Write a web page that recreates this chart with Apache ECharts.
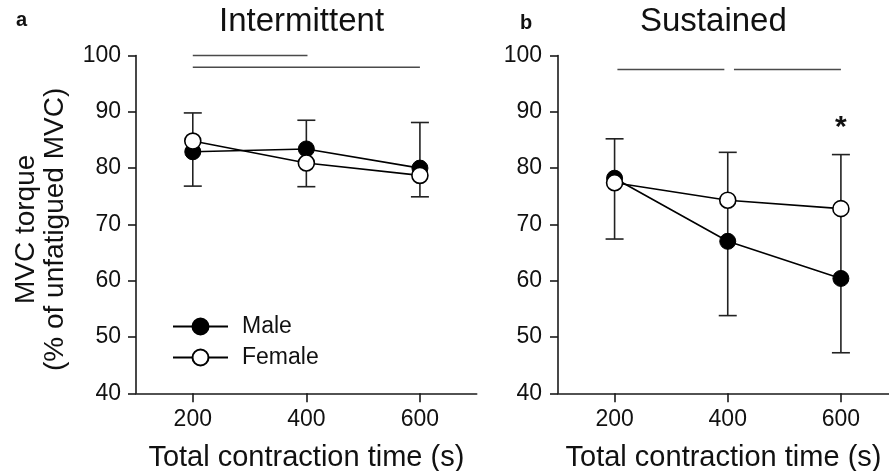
<!DOCTYPE html>
<html>
<head>
<meta charset="utf-8">
<script src="https://cdn.jsdelivr.net/npm/echarts@6/dist/echarts.min.js"></script>
<style>
html,body{margin:0;padding:0;background:#fff;}
#chart{width:889px;height:471px;}
</style>
</head>
<body>
<div id="chart"></div>
<script>
// ---- data ----
const xValues = [200, 400, 600];
const xTickValues = [200, 400, 600];
const seriesNames = ['Male', 'Female'];

const intermittentMale = [82.9, 83.4, 80.0];
const intermittentFemale = [84.8, 80.9, 78.7];
const intermittentErrHigh = [89.8, 88.5, 88.1];
const intermittentErrLow = [76.8, 76.7, 74.9];

const sustainedMale = [78.2, 67.0, 60.4];
const sustainedFemale = [77.4, 74.3, 72.8];
const sustainedErrHigh = [85.2, 82.8, 82.4];
const sustainedErrLow = [67.4, 53.8, 47.2];

// significance bars: [xStart, xEnd, y]
const intermittentSigBars = [[200, 402, 100], [200, 600, 97.9]];
const sustainedSigBars = [[205, 394, 97.5], [411, 600, 97.5]];
// significance marks: [x, y, text]
const sustainedStars = [[600, 87.9, '*']];

const panelTitles = ['Intermittent', 'Sustained'];
const panelLetters = ['a', 'b'];
const xAxisName = 'Total contraction time (s)';
const yAxisName = 'MVC torque\n(% of unfatigued MVC)';

// ---- chart ----
const FONT = '"Liberation Sans", Arial, sans-serif';
const INK = '#111';
const chart = echarts.init(document.getElementById('chart'), null, {renderer: 'canvas'});

function pairs(vals) { return xValues.map((x, i) => [x, vals[i]]); }
function errData(lo, hi) { return xValues.map((x, i) => [x, lo[i], hi[i]]); }

function errorRender(params, api) {
  const x = api.value(0), lo = api.value(1), hi = api.value(2);
  const a = api.coord([x, hi]);
  const b = api.coord([x, lo]);
  const hw = 9;
  const st = {stroke: '#222', lineWidth: 1.6};
  return {type: 'group', children: [
    {type: 'line', shape: {x1: a[0], y1: a[1], x2: b[0], y2: b[1]}, style: st},
    {type: 'line', shape: {x1: a[0] - hw, y1: a[1], x2: a[0] + hw, y2: a[1]}, style: st},
    {type: 'line', shape: {x1: b[0] - hw, y1: b[1], x2: b[0] + hw, y2: b[1]}, style: st}
  ]};
}
function sigRender(params, api) {
  const a = api.coord([api.value(0), api.value(2)]);
  const b = api.coord([api.value(1), api.value(2)]);
  return {type: 'line', shape: {x1: a[0], y1: a[1], x2: b[0], y2: b[1]},
          style: {stroke: '#4a4a4a', lineWidth: 1.5}};
}
function starRender(params, api) {
  const p = api.coord([api.value(0), api.value(1)]);
  return {type: 'text', x: p[0], y: p[1] + 4,
          style: {text: sustainedStars[params.dataIndex][2], font: 'bold 30px ' + FONT,
                  fill: INK, align: 'center', verticalAlign: 'middle'}};
}

const axisLineStyle = {color: '#1a1a1a', width: 1.6};
const labelStyle = {fontFamily: FONT, fontSize: 23, color: INK};

function xAxis(gridIndex, max) {
  return {
    type: 'value', gridIndex: gridIndex, min: 100, max: max,
    name: xAxisName, nameLocation: 'middle', nameGap: 50,
    nameTextStyle: {fontFamily: FONT, fontSize: 29, color: INK},
    axisLine: {show: true, lineStyle: axisLineStyle},
    axisTick: {show: true, length: 9, lineStyle: axisLineStyle, customValues: xTickValues},
    axisLabel: Object.assign({margin: 15, customValues: xTickValues}, labelStyle),
    splitLine: {show: false}
  };
}
function yAxis(gridIndex, margin, withName) {
  const ax = {
    type: 'value', gridIndex: gridIndex, min: 40, max: 100, interval: 10,
    axisLine: {show: true, lineStyle: axisLineStyle},
    axisTick: {show: true, length: 8, lineStyle: axisLineStyle},
    axisLabel: Object.assign({margin: margin}, labelStyle),
    splitLine: {show: false}
  };
  if (withName) {
    ax.name = yAxisName;
    ax.nameLocation = 'middle';
    ax.nameRotate = 90;
    ax.nameGap = 66;
    ax.nameTextStyle = {fontFamily: FONT, fontSize: 28, lineHeight: 29, color: INK, padding: [0, 10, 0, 0]};
  }
  return ax;
}

function panelSeries(idx, male, female, lo, hi, sig) {
  const base = {xAxisIndex: idx, yAxisIndex: idx};
  return [
    Object.assign({type: 'custom', renderItem: sigRender, data: sig,
      encode: {x: [0, 1], y: 2}, silent: true, z: 1}, base),
    Object.assign({type: 'custom', renderItem: errorRender, data: errData(lo, hi),
      encode: {x: 0, y: [1, 2]}, silent: true, z: 1}, base),
    Object.assign({type: 'line', name: seriesNames[0], data: pairs(male),
      symbol: 'circle', symbolSize: 16, showAllSymbol: true,
      lineStyle: {color: '#000', width: 1.6},
      itemStyle: {color: '#000', borderColor: '#000', borderWidth: 1}, z: 2}, base),
    Object.assign({type: 'line', name: seriesNames[1], data: pairs(female),
      symbol: 'circle', symbolSize: 16, showAllSymbol: true,
      lineStyle: {color: '#000', width: 1.6},
      itemStyle: {color: '#fff', borderColor: '#000', borderWidth: 1.6}, z: 3}, base)
  ];
}

const series = []
  .concat(panelSeries(0, intermittentMale, intermittentFemale, intermittentErrLow, intermittentErrHigh, intermittentSigBars))
  .concat(panelSeries(1, sustainedMale, sustainedFemale, sustainedErrLow, sustainedErrHigh, sustainedSigBars));
series.push({type: 'custom', xAxisIndex: 1, yAxisIndex: 1, renderItem: starRender,
  data: sustainedStars.map(s => [s[0], s[1]]), encode: {x: 0, y: 1}, silent: true, z: 4});

const option = {
  animation: false,
  backgroundColor: '#fff',
  title: [
    {text: panelTitles[0], left: 219, top: 5, padding: 0,
     textStyle: {fontFamily: FONT, fontSize: 33, fontWeight: 'normal', color: INK}},
    {text: panelTitles[1], left: 640, top: 5, padding: 0,
     textStyle: {fontFamily: FONT, fontSize: 33, fontWeight: 'normal', color: INK}},
    {text: panelLetters[0], left: 16, top: 10, padding: 0,
     textStyle: {fontFamily: FONT, fontSize: 20, fontWeight: 'bold', color: INK}},
    {text: panelLetters[1], left: 520, top: 13, padding: 0,
     textStyle: {fontFamily: FONT, fontSize: 20, fontWeight: 'bold', color: INK}}
  ],
  legend: {
    data: seriesNames, orient: 'vertical', left: 172, top: 315, padding: 0,
    itemWidth: 55, itemHeight: 20, itemGap: 8,
    textStyle: {fontFamily: FONT, fontSize: 23, color: INK, padding: [0, 0, 0, 9]},
    selectedMode: false
  },
  grid: [
    {left: 136, top: 55.5, width: 340.7, height: 337.8, containLabel: false, outerBoundsMode: 'none'},
    {left: 558, top: 55.5, width: 331, height: 337.8, containLabel: false, outerBoundsMode: 'none'}
  ],
  xAxis: [xAxis(0, 700), xAxis(1, 685)],
  yAxis: [yAxis(0, 15, true), yAxis(1, 16, false)],
  series: series
};
chart.setOption(option);
</script>
</body>
</html>
